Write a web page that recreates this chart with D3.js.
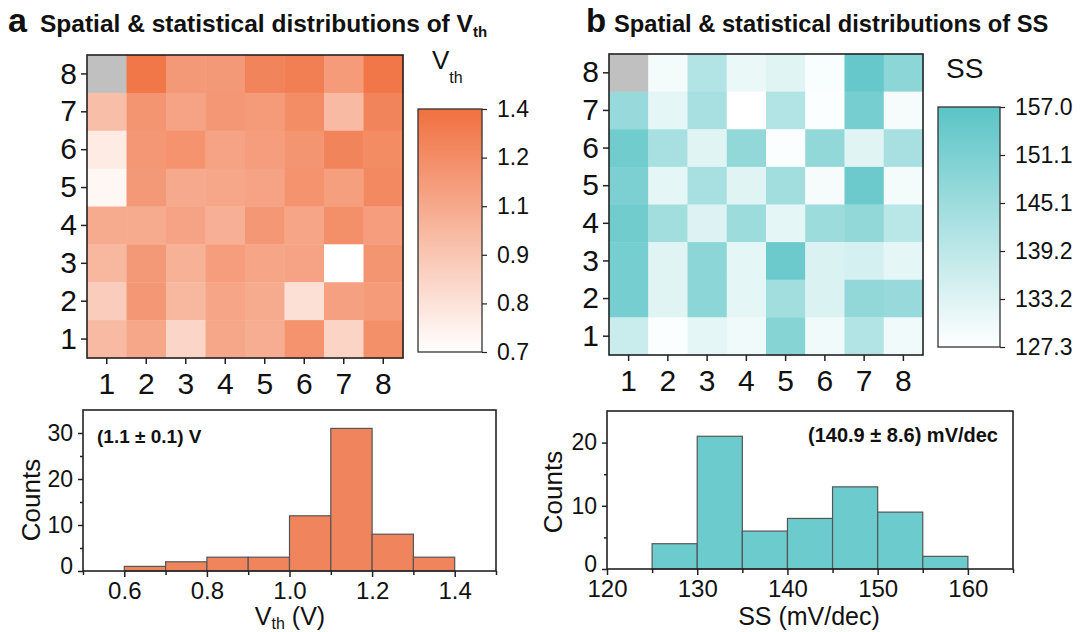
<!DOCTYPE html>
<html lang="en">
<head>
<meta charset="utf-8">
<title>Vth and SS distributions</title>
<script src="https://cdn.jsdelivr.net/npm/d3@7"></script>
<style>
  * { margin: 0; padding: 0; }
  body { background: #fff; }
  svg text { font-family: "Liberation Sans", Arial, sans-serif; fill: #111; }
</style>
</head>
<body>
<div id="chart"></div>
<script>
// grid positions (columns left->right, rows top->bottom)
var gridCols = [1, 2, 3, 4, 5, 6, 7, 8];
var gridRows = [8, 7, 6, 5, 4, 3, 2, 1];

// Vth map (V), one array per row, top row first; null = missing device
var vthGrid = [
  [null, 1.37, 1.20, 1.20, 1.30, 1.33, 1.19, 1.37],
  [1.02, 1.22, 1.15, 1.21, 1.19, 1.26, 1.04, 1.30],
  [0.80, 1.21, 1.23, 1.15, 1.18, 1.22, 1.30, 1.27],
  [0.74, 1.20, 1.12, 1.13, 1.15, 1.23, 1.17, 1.28],
  [1.11, 1.11, 1.15, 1.09, 1.21, 1.14, 1.25, 1.18],
  [1.05, 1.20, 1.08, 1.18, 1.14, 1.15, 0.70, 1.22],
  [0.95, 1.21, 1.05, 1.14, 1.11, 0.85, 1.16, 1.19],
  [1.04, 1.13, 0.90, 1.13, 1.10, 1.23, 0.91, 1.25]
];

// SS map (mV/dec), top row first
var ssGrid = [
  [null, 129.5, 141.0, 131.0, 133.0, 128.5, 155.0, 148.0],
  [146.0, 132.0, 143.0, 127.3, 141.0, 128.0, 152.0, 129.0],
  [153.0, 143.0, 133.0, 147.0, 128.0, 147.0, 133.0, 143.0],
  [151.0, 132.0, 143.0, 133.0, 144.0, 129.0, 154.0, 129.5],
  [153.0, 144.0, 133.5, 145.0, 132.0, 145.0, 147.0, 140.0],
  [152.0, 133.0, 148.0, 132.0, 154.0, 134.0, 135.0, 132.0],
  [152.0, 133.0, 148.0, 132.0, 144.0, 134.0, 147.0, 146.0],
  [137.0, 128.0, 132.0, 130.0, 149.0, 130.0, 141.0, 130.0]
];

// colour bar ranges and labels
var vthRange = [0.7, 1.4];
var vthBarLabels = ["0.7", "0.8", "0.9", "1.1", "1.2", "1.4"];
var ssRange = [127.3, 157.0];
var ssBarLabels = ["127.3", "133.2", "139.2", "145.1", "151.1", "157.0"];

// histograms
var vthEdges = [0.6, 0.7, 0.8, 0.9, 1.0, 1.1, 1.2, 1.3, 1.4];
var vthCounts = [1, 2, 3, 3, 12, 31, 8, 3];
var ssEdges = [125, 130, 135, 140, 145, 150, 155, 160];
var ssCounts = [4, 21, 6, 8, 13, 9, 2];

var vthHistTicks = [0.6, 0.8, 1.0, 1.2, 1.4];
var vthHistMinor = [0.5, 0.7, 0.9, 1.1, 1.3, 1.5];
var vthCountTicks = [0, 10, 20, 30];
var vthCountMinor = [5, 15, 25];
var ssHistTicks = [120, 130, 140, 150, 160];
var ssHistMinor = [125, 135, 145, 155, 165];
var ssCountTicks = [0, 10, 20];
var ssCountMinor = [5, 15];

var svg = d3.select("#chart")
  .append("svg")
  .attr("width", 1088)
  .attr("height", 632);
var defs = svg.append("defs");

var vthColor = d3.scaleLinear().domain(vthRange).range(["#ffffff", "#f07040"]);
var ssColor = d3.scaleLinear().domain(ssRange).range(["#ffffff", "#5bc4c6"]);

function styleAxis(g, size) {
  g.select(".domain").remove();
  g.selectAll("line").attr("stroke", "#222").attr("stroke-width", 1.5);
  g.selectAll("text").attr("font-size", size);
}

function frame(b) {
  svg.append("rect")
    .attr("x", b.x0).attr("y", b.y0)
    .attr("width", b.x1 - b.x0).attr("height", b.y1 - b.y0)
    .attr("fill", "none").attr("stroke", "#222").attr("stroke-width", 1.6);
}

function drawHeatmap(b, grid, color) {
  var x = d3.scaleBand().domain(gridCols).range([b.x0, b.x1]);
  var y = d3.scaleBand().domain(gridRows).range([b.y0, b.y1]);
  var cells = [];
  grid.forEach(function(row, i) {
    row.forEach(function(v, j) {
      cells.push({ r: gridRows[i], c: gridCols[j], v: v });
    });
  });
  svg.append("g").selectAll("rect")
    .data(cells)
    .join("rect")
    .attr("x", function(d) { return x(d.c); })
    .attr("y", function(d) { return y(d.r); })
    .attr("width", x.bandwidth() + 0.4)
    .attr("height", y.bandwidth() + 0.4)
    .attr("fill", function(d) { return d.v == null ? "#c0c0c0" : color(d.v); });

  var gx = svg.append("g")
    .attr("transform", "translate(0," + b.y1 + ")")
    .call(d3.axisBottom(x).tickSize(6).tickPadding(9));
  var gy = svg.append("g")
    .attr("transform", "translate(" + b.x0 + ",0)")
    .call(d3.axisLeft(y).tickSize(6).tickPadding(4));
  styleAxis(gx, 30);
  styleAxis(gy, 30);
  frame(b);
}

function drawColorbar(b, color, labels, id) {
  var dom = color.domain();
  var s = d3.scaleLinear().domain(dom).range([b.y1, b.y0]);
  var grad = defs.append("linearGradient")
    .attr("id", id).attr("x1", 0).attr("y1", 1).attr("x2", 0).attr("y2", 0);
  d3.range(0, 1.0001, 0.1).forEach(function(t) {
    grad.append("stop")
      .attr("offset", t)
      .attr("stop-color", color(dom[0] + t * (dom[1] - dom[0])));
  });
  svg.append("rect")
    .attr("x", b.x0).attr("y", b.y0)
    .attr("width", b.x1 - b.x0).attr("height", b.y1 - b.y0)
    .attr("fill", "url(#" + id + ")")
    .attr("stroke", "#333").attr("stroke-width", 1.3);
  var vals = labels.map(function(l, i) {
    return dom[0] + (dom[1] - dom[0]) * i / (labels.length - 1);
  });
  var g = svg.append("g")
    .attr("transform", "translate(" + b.x1 + ",0)")
    .call(d3.axisRight(s).tickValues(vals)
      .tickFormat(function(d, i) { return labels[i]; })
      .tickSize(5).tickPadding(10));
  styleAxis(g, 23);
  g.selectAll("line").attr("stroke-width", 1.2);
}

function drawHist(b, edges, counts, xDom, yDom, xt, xm, yt, ym, fill, fmt) {
  var x = d3.scaleLinear().domain(xDom).range([b.x0, b.x1]);
  var y = d3.scaleLinear().domain(yDom).range([b.y1, b.y0]);
  var bins = counts.map(function(c, i) { return { a: edges[i], b: edges[i + 1], c: c }; });
  svg.append("g").selectAll("rect")
    .data(bins)
    .join("rect")
    .attr("x", function(d) { return x(d.a); })
    .attr("y", function(d) { return y(d.c); })
    .attr("width", function(d) { return x(d.b) - x(d.a); })
    .attr("height", function(d) { return y(0) - y(d.c); })
    .attr("fill", fill)
    .attr("stroke", "#555").attr("stroke-width", 1.2);

  var gx = svg.append("g")
    .attr("transform", "translate(0," + b.y1 + ")")
    .call(d3.axisBottom(x).tickValues(xt).tickFormat(fmt).tickSize(6).tickPadding(5));
  var gxm = svg.append("g")
    .attr("transform", "translate(0," + b.y1 + ")")
    .call(d3.axisBottom(x).tickValues(xm).tickFormat("").tickSize(4));
  var gy = svg.append("g")
    .attr("transform", "translate(" + b.x0 + ",0)")
    .call(d3.axisLeft(y).tickValues(yt).tickSize(5).tickPadding(5));
  var gym = svg.append("g")
    .attr("transform", "translate(" + b.x0 + ",0)")
    .call(d3.axisLeft(y).tickValues(ym).tickFormat("").tickSize(3));
  styleAxis(gx, 24);
  styleAxis(gxm, 24);
  styleAxis(gy, 23);
  styleAxis(gym, 23);
  // lift the zero label slightly so it clears the first x label
  gy.selectAll(".tick").filter(function(d) { return d === 0; })
    .select("text").attr("dy", "0.12em");
  frame(b);
}

// panel a
drawHeatmap({ x0: 87, x1: 403, y0: 55, y1: 358 }, vthGrid, vthColor);
drawColorbar({ x0: 418, x1: 482, y0: 109, y1: 352 }, vthColor, vthBarLabels, "gradVth");
drawHist({ x0: 83, x1: 496, y0: 410, y1: 571 }, vthEdges, vthCounts, [0.5, 1.5], [0, 35],
  vthHistTicks, vthHistMinor, vthCountTicks, vthCountMinor, "#f0845c", d3.format(".1f"));

// panel b
drawHeatmap({ x0: 609, x1: 923, y0: 54, y1: 355 }, ssGrid, ssColor);
drawColorbar({ x0: 938, x1: 1000, y0: 107, y1: 347 }, ssColor, ssBarLabels, "gradSS");
drawHist({ x0: 607, x1: 1013, y0: 411, y1: 569 }, ssEdges, ssCounts, [120, 165], [0, 25],
  ssHistTicks, ssHistMinor, ssCountTicks, ssCountMinor, "#6ccbcc", d3.format("d"));

// titles
svg.append("text").attr("x", 8).attr("y", 32)
  .attr("font-size", 34).attr("font-weight", "bold").text("a");
var ta = svg.append("text").attr("x", 40).attr("y", 32)
  .attr("font-size", 24.5).attr("font-weight", "bold");
ta.append("tspan").text("Spatial & statistical distributions of V");
ta.append("tspan").attr("font-size", 15).attr("dy", 5).text("th");

svg.append("text").attr("x", 586).attr("y", 32)
  .attr("font-size", 33).attr("font-weight", "bold").text("b");
svg.append("text").attr("x", 614).attr("y", 32)
  .attr("font-size", 23.7).attr("font-weight", "bold")
  .text("Spatial & statistical distributions of SS");

// colour bar titles
var cba = svg.append("text").attr("x", 432).attr("y", 69).attr("font-size", 26);
cba.append("tspan").text("V");
cba.append("tspan").attr("font-size", 16).attr("dy", 14).text("th");
svg.append("text").attr("x", 946).attr("y", 78).attr("font-size", 28).text("SS");

// axis labels
var xla = svg.append("text").attr("x", 290).attr("y", 625)
  .attr("font-size", 25).attr("text-anchor", "middle");
xla.append("tspan").text("V");
xla.append("tspan").attr("font-size", 16).attr("dy", 4).text("th");
xla.append("tspan").attr("dy", -4).text(" (V)");

svg.append("text").attr("x", 809).attr("y", 625)
  .attr("font-size", 25).attr("text-anchor", "middle").text("SS (mV/dec)");

svg.append("text").attr("transform", "translate(40,500) rotate(-90)")
  .attr("font-size", 26).attr("text-anchor", "middle").text("Counts");
svg.append("text").attr("transform", "translate(562,492) rotate(-90)")
  .attr("font-size", 26).attr("text-anchor", "middle").text("Counts");

// annotations
svg.append("text").attr("x", 97).attr("y", 443)
  .attr("font-size", 19).attr("font-weight", "bold").text("(1.1 \u00b1 0.1) V");
svg.append("text").attr("x", 998).attr("y", 442)
  .attr("font-size", 20).attr("font-weight", "bold").attr("text-anchor", "end")
  .text("(140.9 \u00b1 8.6) mV/dec");
</script>
</body>
</html>
